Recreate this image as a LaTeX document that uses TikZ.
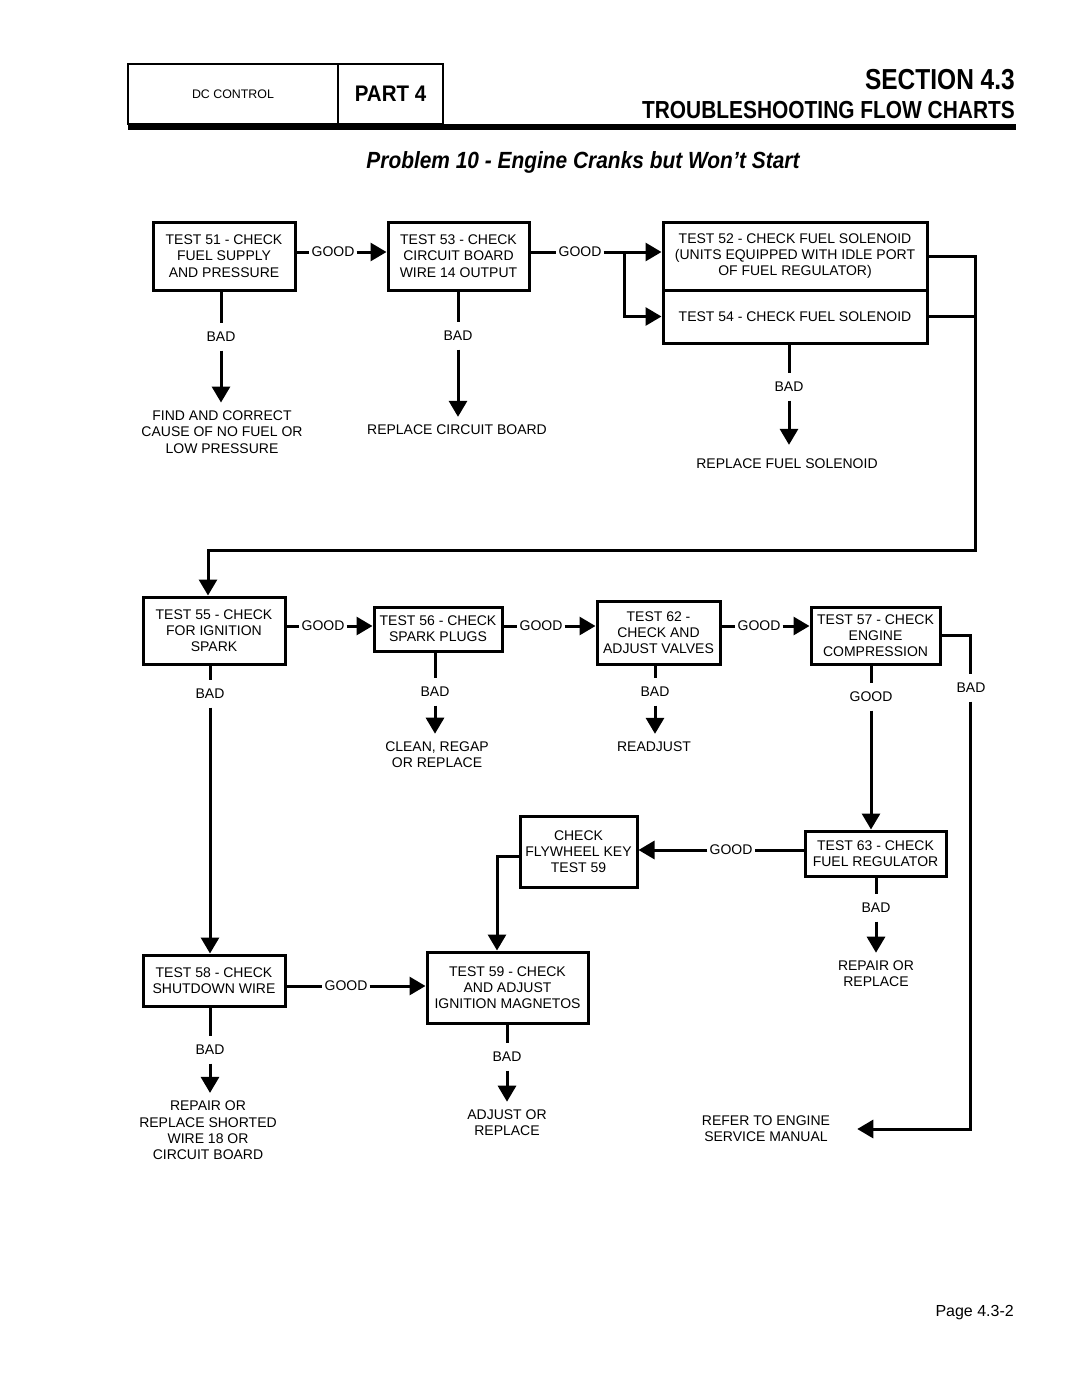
\documentclass[tikz,border=0pt]{standalone}
\usepackage{graphicx}
\usepackage{fontspec}
\setmainfont{Liberation Sans}
\usetikzlibrary{arrows.meta}
\newcommand{\fs}{\fontsize{14}{16.3}\selectfont}
\begin{document}
\begin{tikzpicture}[x=1pt,y=-1pt,line join=miter,
  box/.style={draw, line width=3pt, align=center, inner sep=0pt, font=\fs},
  lbl/.style={inner xsep=2pt, inner ysep=8.5pt, font=\fs},
  res/.style={inner sep=8pt, align=center, font=\fs},
  ln/.style={line width=3pt},
  arr/.style={line width=3pt, -{Triangle[width=18pt,length=16pt]}},
  hbox/.style={draw, line width=1.8pt, minimum height=60pt, inner sep=0pt}
]
\useasboundingbox (0,0) rectangle (1080,1397);

% ---------- header ----------
\node[hbox, minimum width=210pt, font=\fontsize{12.4}{14}\selectfont] (hdc) at (233,94) {DC CONTROL};
\node[hbox, minimum width=105pt, font=\fontsize{20.5}{24}\selectfont\bfseries] (hpt) at (390.5,94) {\scalebox{1}[1.1]{PART 4}};
\fill (128,124) rectangle (1016,130);
\node[anchor=east, inner sep=0pt, font=\fontsize{24.5}{28}\selectfont\bfseries] (sec) at (1015,80) {\scalebox{1}[1.18]{SECTION 4.3}};
\node[anchor=east, inner sep=0pt, font=\fontsize{20.9}{24}\selectfont\bfseries] (tfc) at (1015,110) {\scalebox{1}[1.18]{TROUBLESHOOTING FLOW CHARTS}};
\node[inner sep=0pt, font=\fontsize{20.9}{24}\selectfont\bfseries\itshape] (title) at (583,162) {\scalebox{1}[1.12]{Problem 10 - Engine Cranks but Won’t Start}};
\node[anchor=base east, inner sep=0pt, font=\fontsize{16}{19}\selectfont] (page) at (1014,1316) {Page 4.3-2};

% ---------- boxes ----------
\node[box, minimum width=142pt, minimum height=68pt] (b51) at (224,256) {TEST 51 - CHECK\\FUEL SUPPLY\\AND PRESSURE};
\node[box, minimum width=141pt, minimum height=68pt] (b53) at (458.5,256) {TEST 53 - CHECK\\CIRCUIT BOARD\\WIRE 14 OUTPUT};
\node[box, minimum width=264pt, minimum height=68pt] (b52) at (795,256) {TEST 52 - CHECK FUEL SOLENOID\\(UNITS EQUIPPED WITH IDLE PORT\\OF FUEL REGULATOR)};
\node[box, minimum width=264pt, minimum height=53pt] (b54) at (795,316.5) {TEST 54 - CHECK FUEL SOLENOID};

\node[box, minimum width=142pt, minimum height=67pt] (b55) at (214,630.5) {TEST 55 - CHECK\\FOR IGNITION\\SPARK};
\node[box, minimum width=128pt, minimum height=44pt] (b56) at (438,629) {TEST 56 - CHECK\\SPARK PLUGS};
\node[box, minimum width=123pt, minimum height=63pt] (b62) at (658.5,632.5) {TEST 62 -\\CHECK AND\\ADJUST VALVES};
\node[box, minimum width=129pt, minimum height=57pt] (b57) at (875.5,635.5) {TEST 57 - CHECK\\ENGINE\\COMPRESSION};

\node[box, minimum width=141pt, minimum height=45pt] (b63) at (875.5,853.5) {TEST 63 - CHECK\\FUEL REGULATOR};
\node[box, minimum width=117pt, minimum height=71pt] (cfk) at (578.5,851.5) {CHECK\\FLYWHEEL KEY\\TEST 59};

\node[box, minimum width=142pt, minimum height=51pt] (b58) at (214,980.5) {TEST 58 - CHECK\\SHUTDOWN WIRE};
\node[box, minimum width=161pt, minimum height=71pt] (b59) at (507.5,987.5) {TEST 59 - CHECK\\AND ADJUST\\IGNITION MAGNETOS};

% ---------- result texts ----------
\node[res] (t51) at (222,432) {FIND AND CORRECT\\CAUSE OF NO FUEL OR\\LOW PRESSURE};
\node[res] (t53) at (457,430) {REPLACE CIRCUIT BOARD};
\node[res, inner ysep=14pt] (t54) at (787,464) {REPLACE FUEL SOLENOID};
\node[res] (t56) at (437,755) {CLEAN, REGAP\\OR REPLACE};
\node[res] (t62) at (654,747) {READJUST};
\node[res] (t63) at (876,974) {REPAIR OR\\REPLACE};
\node[res] (t58) at (208,1130.5) {REPAIR OR\\REPLACE SHORTED\\WIRE 18 OR\\CIRCUIT BOARD};
\node[res] (t59) at (507,1123) {ADJUST OR\\REPLACE};
\node[res] (refer) at (766,1129) {REFER TO ENGINE\\SERVICE MANUAL};

% ---------- labels ----------
\node[lbl] (g1) at (333,252) {GOOD};
\node[lbl] (g2) at (580,252) {GOOD};
\node[lbl] (bad51) at (221,337) {BAD};
\node[lbl] (bad53) at (458,336) {BAD};
\node[lbl] (bad54) at (789,387) {BAD};

\node[lbl] (g3) at (323,626) {GOOD};
\node[lbl] (g4) at (541,626) {GOOD};
\node[lbl] (g5) at (759,626) {GOOD};
\node[lbl] (bad55) at (210,694) {BAD};
\node[lbl] (bad56) at (435,692) {BAD};
\node[lbl] (bad62) at (655,692) {BAD};
\node[lbl] (good57) at (871,697) {GOOD};
\node[lbl] (bad57) at (971,688) {BAD};

\node[lbl] (g6) at (731,850) {GOOD};
\node[lbl] (bad63) at (876,908) {BAD};

\node[lbl] (g7) at (346,986) {GOOD};
\node[lbl] (bad58) at (210,1050) {BAD};
\node[lbl] (bad59) at (507,1057) {BAD};

% ---------- connectors: row 1 ----------
\draw[ln] (b51.east |- g1.west) -- (g1.west);
\draw[arr] (g1.east) -- (g1.east -| b53.west);
\draw[ln] (b53.east |- g2.west) -- (g2.west);
\coordinate (br) at (624,252);
\draw[ln] (g2.east) -- (br);
\draw[arr] (br) -- (br -| b52.west);
\draw[arr] (br) |- (b54.west);

\draw[ln] (bad51.north |- b51.south) -- (bad51.north);
\draw[arr] (bad51.south) -- (bad51.south |- t51.north);
\draw[ln] (bad53.north |- b53.south) -- (bad53.north);
\draw[arr] (bad53.south) -- (bad53.south |- t53.north);
\draw[ln] (bad54.north |- b54.south) -- (bad54.north);
\draw[arr] (bad54.south) -- (bad54.south |- t54.north);

\coordinate (rt) at (975,256);
\coordinate (rb) at (975,550);
\coordinate (lb) at (208,550);
\draw[ln] (b54.east) -- (b54.east -| rt);
\draw[arr] (b52.east) -- (rt) -- (rb) -- (lb) -- (lb |- b55.north);

% ---------- connectors: row 2 ----------
\draw[ln] (b55.east |- g3.west) -- (g3.west);
\draw[arr] (g3.east) -- (g3.east -| b56.west);
\draw[ln] (b56.east |- g4.west) -- (g4.west);
\draw[arr] (g4.east) -- (g4.east -| b62.west);
\draw[ln] (b62.east |- g5.west) -- (g5.west);
\draw[arr] (g5.east) -- (g5.east -| b57.west);

\coordinate (c57) at (970,0);
\draw[ln] (b57.east) -- (b57.east -| c57) -- (c57 |- bad57.north);
\draw[arr] (c57 |- bad57.south) -- (c57 |- refer.east) -- ([xshift=19pt]refer.east);

\draw[ln] (good57.north |- b57.south) -- (good57.north);
\draw[arr] (good57.south) -- (good57.south |- b63.north);

\draw[ln] (bad55.north |- b55.south) -- (bad55.north);
\draw[arr] (bad55.south) -- (bad55.south |- b58.north);
\draw[ln] (bad56.north |- b56.south) -- (bad56.north);
\draw[arr] (bad56.south) -- (bad56.south |- t56.north);
\draw[ln] (bad62.north |- b62.south) -- (bad62.north);
\draw[arr] (bad62.south) -- (bad62.south |- t62.north);

% ---------- connectors: row 3 ----------
\draw[ln] (b63.west |- g6.east) -- (g6.east);
\draw[arr] (g6.west) -- (g6.west -| cfk.east);
\coordinate (k1) at (497,856);
\draw[arr] (cfk.west |- k1) -- (k1) -- (k1 |- b59.north);
\draw[ln] (bad63.north |- b63.south) -- (bad63.north);
\draw[arr] (bad63.south) -- (bad63.south |- t63.north);

% ---------- connectors: row 4 ----------
\draw[ln] (b58.east |- g7.west) -- (g7.west);
\draw[arr] (g7.east) -- (g7.east -| b59.west);
\draw[ln] (bad58.north |- b58.south) -- (bad58.north);
\draw[arr] (bad58.south) -- (bad58.south |- t58.north);
\draw[ln] (bad59.north |- b59.south) -- (bad59.north);
\draw[arr] (bad59.south) -- (bad59.south |- t59.north);
\end{tikzpicture}
\end{document}
